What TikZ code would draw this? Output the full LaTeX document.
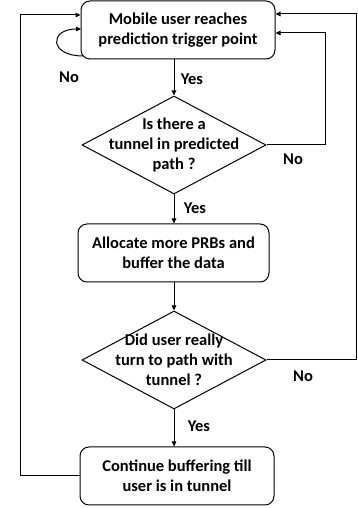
\documentclass[tikz,border=0pt]{standalone}
\usepackage{fontspec}
\setmainfont{Carlito}
\usetikzlibrary{shapes.geometric,arrows.meta}
\begin{document}
\begin{tikzpicture}[x=1pt,y=1pt,
  font=\fontsize{16.5}{20}\selectfont\bfseries,
  proc/.style={draw, rounded corners=9pt, minimum width=194pt, minimum height=58pt, align=center, line width=1pt},
  decision/.style={draw, diamond, minimum width=184pt, minimum height=98pt, inner sep=0pt, line width=1pt},
  dtext/.style={align=center},
  flow/.style={line width=1pt, -{Triangle[length=5pt,width=4.5pt]}}]
\useasboundingbox (0,0) rectangle (357,508);
\node[proc] (b1) at (178,478) {Mobile user reaches\\prediction trigger point};
\node[decision, label={[dtext]center:{Is there a\\tunnel in predicted\\path ?}}] (d1) at (174,363) {};
\node[proc, minimum width=191pt] (b2) at (173.5,255) {Allocate more PRBs and\\buffer the data};
\node[decision, label={[dtext]center:{Did user really\\turn to path with\\tunnel ?}}] (d2) at (174,148) {};
\node[proc] (b3) at (177,32) {Continue buffering till\\user is in tunnel};
\draw[flow](d1.north |- b1.south) -- (d1.north);
\draw[flow](d1.south) -- (d1.south |- b2.north);
\draw[flow](d2.north |- b2.south) -- (d2.north);
\draw[flow](d2.south) -- (d2.south |- b3.north);
% back to the start
\coordinate (r1) at (325,475);
\coordinate (r2) at (356,494);
\coordinate (l1) at (20,493);
\coordinate (s1) at (83,452);
\coordinate (s2) at (81,479);
\draw[flow](d1.east) -| (r1) -- (r1 -| b1.east);
\draw[flow](d2.east) -| (r2) -- (r2 -| b1.east);
\draw[flow](b3.west) -| (l1) -- (l1 -| b1.west);
\draw[flow](s1) .. controls (49,452) and (49,479) .. (s2);
\node (no0) at (69,431) {No};
\node (yes1) at (192,429) {Yes};
\node (no1) at (293,349) {No};
\node (yes2) at (195,300) {Yes};
\node (no2) at (303,132) {No};
\node (yes3) at (199,82) {Yes};
\end{tikzpicture}
\end{document}
